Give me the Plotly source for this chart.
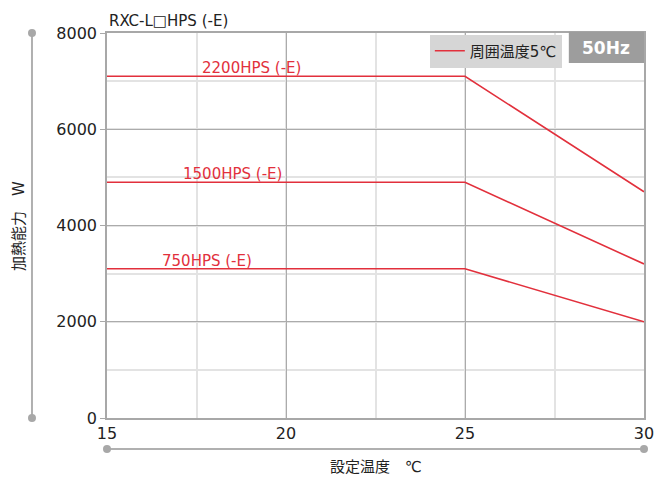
import plotly.graph_objects as go

# setpoint temperature (deg C)
set_temp = [15, 25, 30]

# heating capacity (W) per model, ambient 5 deg C
models = ['2200HPS (-E)', '1500HPS (-E)', '750HPS (-E)']
cap_2200 = [7100, 7100, 4700]
cap_1500 = [4900, 4900, 3200]
cap_750 = [3100, 3100, 2000]
label_x = [19.05, 18.5, 17.8]

x_ticks = [15, 20, 25, 30]
y_ticks = [0, 2000, 4000, 6000, 8000]

RED = '#e2303c'
FONT = 'DejaVu Sans, Noto Sans CJK JP, sans-serif'

fig = go.Figure()

for i, (name, vals) in enumerate(zip(models, [cap_2200, cap_1500, cap_750])):
    fig.add_trace(go.Scatter(
        x=set_temp, y=vals, mode='lines',
        line=dict(color=RED, width=1.6),
        name='周囲温度5℃', showlegend=(i == 0),
        hoverinfo='skip',
    ))

fig.update_xaxes(
    range=[15, 30], tickvals=x_ticks, showline=True, mirror=True,
    linecolor='#a8a8a8', linewidth=1.5, gridcolor='#ababab', gridwidth=1,
    minor=dict(dtick=2.5, tick0=15, showgrid=True, gridcolor='#e3e3e3', gridwidth=1.5),
    tickfont=dict(size=16, color='#222'), zeroline=False, ticks='',
)
fig.update_yaxes(
    range=[0, 8000], tickvals=y_ticks, showline=True, mirror=True,
    linecolor='#a8a8a8', linewidth=1.5, gridcolor='#ababab', gridwidth=1,
    minor=dict(dtick=1000, tick0=0, showgrid=True, gridcolor='#e3e3e3', gridwidth=1.5),
    tickfont=dict(size=16, color='#222'), zeroline=False,
    ticks='outside', ticklen=5, tickcolor='#a8a8a8',
)

shapes = [
    # decorative axis lines with end dots
    dict(type='line', xref='paper', yref='paper', x0=-0.1397, x1=-0.1397, y0=0, y1=1,
         line=dict(color='#b0b0b0', width=2)),
    dict(type='line', xref='paper', yref='paper', x0=0, x1=1, y0=-0.0805, y1=-0.0805,
         line=dict(color='#b0b0b0', width=2)),
    # 50Hz box
    dict(type='rect', xref='paper', yref='paper', x0=0.860, x1=1.0, y0=0.922, y1=1.003,
         fillcolor='#9d9d9d', line=dict(width=0)),
]
for (dx, dy) in [(-0.1397, 0), (-0.1397, 1), (0, -0.0805), (1, -0.0805)]:
    shapes.append(dict(type='circle', xref='paper', yref='paper',
                       xsizemode='pixel', ysizemode='pixel', xanchor=dx, yanchor=dy,
                       x0=-4, x1=4, y0=-4, y1=4, fillcolor='#a8a8a8', line=dict(width=0)))

fig.update_layout(
    width=656, height=477,
    margin=dict(l=107, r=12, t=33, b=59, autoexpand=False),
    plot_bgcolor='white', paper_bgcolor='white',
    font=dict(family=FONT, color='#222'),
    shapes=shapes,
    legend=dict(x=0.847, y=0.996, xanchor='right', yanchor='top',
                bgcolor='#d6d6d6', font=dict(size=15, color='#222'),
                itemwidth=30, tracegroupgap=0),
)

for i, name in enumerate(models):
    vals = [cap_2200, cap_1500, cap_750][i]
    fig.add_annotation(
        x=label_x[i], y=vals[0], text=name, showarrow=False,
        yanchor='bottom', yshift=-3, font=dict(color=RED, size=15, family=FONT),
    )

fig.add_annotation(text='50Hz', xref='paper', yref='paper', x=0.93, y=0.962,
                   xanchor='center', yanchor='middle', showarrow=False,
                   font=dict(size=17, color='white', family=FONT, weight='bold'))
fig.add_annotation(text='RXC-L□HPS (-E)', xref='paper', yref='paper', x=0, y=1.0,
                   xanchor='left', yanchor='bottom', yshift=1, showarrow=False,
                   font=dict(size=15, color='#222', family=FONT))
fig.add_annotation(text='加熱能力　W', xref='paper', yref='paper', x=-0.165, y=0.5,
                   xanchor='center', yanchor='middle', textangle=-90, showarrow=False,
                   font=dict(size=15, color='#222', family=FONT))
fig.add_annotation(text='設定温度　℃', xref='paper', yref='paper', x=0.5, y=-0.127,
                   xanchor='center', yanchor='middle', showarrow=False,
                   font=dict(size=15, color='#222', family=FONT))

# drop the page's default body margin so the figure sits at the window corner
fig.write_html("out.html", config={'displayModeBar': False},
               post_script="document.body.style.margin='0';")
